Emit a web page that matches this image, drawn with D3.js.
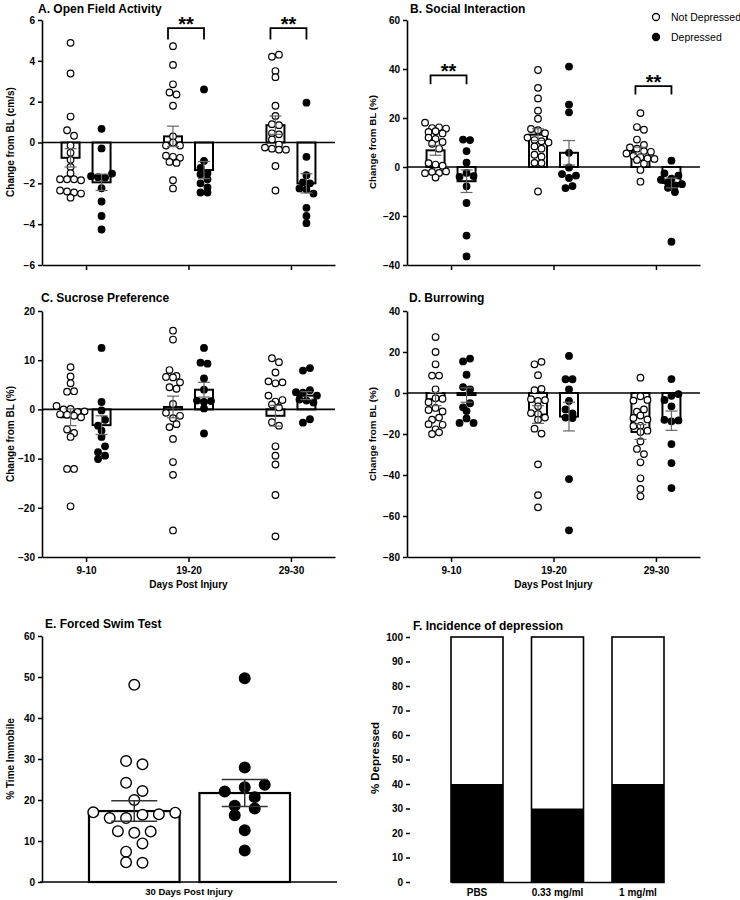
<!DOCTYPE html>
<html><head><meta charset="utf-8">
<script src="https://cdn.jsdelivr.net/npm/d3@7"></script>
<style>
body{margin:0;background:#fff}
svg{display:block}
text{font-family:"Liberation Sans",Arial,Helvetica,sans-serif;fill:#000}
</style>
</head><body>
<svg id="chart" width="740" height="900"></svg>
<script>
// ---------- shared categories ----------
const groups = ["9-10", "19-20", "29-30"];
const seriesNames = ["Not Depressed", "Depressed"];

// ---------- Panel A: Open Field Activity (cm/s) ----------
const aTicks = [-6, -4, -2, 0, 2, 4, 6];
const aNotDep = [
  [4.88, 3.38, 1.27, 0.6, 0.33, -0.15, -0.5, -0.85, -1.2, -1.5, -1.8, -1.8, -1.8, -1.85, -2.35, -2.4, -2.45, -2.5, -2.7],
  [4.72, 3.8, 2.85, 2.45, 2.35, 1.8, 0.3, -0.15, 0.0, -0.15, -0.65, -0.7, -0.75, -0.95, -1.0, -1.85, -2.25],
  [4.2, 4.3, 3.5, 3.2, 1.8, 1.3, 0.9, 0.85, 0.45, 0.4, 0.15, -0.1, -0.25, -0.3, -0.35, -0.35, -1.15, -2.35]
];
const aDep = [
  [0.67, -0.29, -1.65, -1.7, -1.72, -1.52, -2.24, -2.89, -3.6, -4.26],
  [2.6, -0.9, -1.25, -1.5, -1.55, -1.8, -2.0, -2.2, -2.45, -2.45],
  [1.95, -0.7, -1.6, -1.95, -2.0, -2.25, -2.3, -2.5, -3.2, -3.6, -3.95]
];
const aNotMean = [-0.75, 0.3, 0.85], aNotSem = [0.45, 0.5, 0.45];
const aDepMean = [-1.95, -1.35, -2.0], aDepSem = [0.4, 0.42, 0.47];
const aSig = [{group: "19-20", top: 5.6, leg: 5.05}, {group: "29-30", top: 5.6, leg: 5.05}];

// ---------- Panel B: Social Interaction (%) ----------
const bTicks = [-40, -20, 0, 20, 40, 60];
const bNotDep = [
  [18.1, 15.9, 16.2, 15.7, 14.3, 14.6, 13.7, 12, 11.5, 10.2, 9.5, 7.5, 1.6, 1.0, 0.5, -2.5, -2.0, -2.4, -1.8, -4.3],
  [39.6, 32.3, 28, 23, 19.7, 15.5, 15, 13.8, 12, 11, 10.5, 10, 8.4, 7.5, 5, 4.2, 1.7, 1.6, -10],
  [22, 16.3, 15.2, 11.2, 9, 8, 7.5, 6.5, 6.2, 5.5, 4.5, 4, 3.5, 3.3, 2.9, 1.3, -1.2, -6]
];
const bDep = [
  [11.2, 11.0, 6.5, 1.8, -4.0, -2.4, -3.7, -7.9, -14.7, -28, -36.5],
  [41, 25.5, 22.3, 5.8, -2.9, -0.2, -4.5, -3.5, -8.6, -7.8],
  [2.6, -2.6, -5.2, -4.8, -3.5, -6.3, -7.5, -7.0, -8.5, -10.2, -30.5]
];
const bNotMean = [6.8, 13.2, 6.6], bNotSem = [2.0, 2.4, 1.5];
const bDepMean = [-5.8, 5.8, -6.5], bDepSem = [4.6, 5.0, 2.0];
const bSig = [{group: "9-10", top: 37.4, leg: 33.8}, {group: "29-30", top: 33.0, leg: 29.6}];

// ---------- Panel C: Sucrose Preference (%) ----------
const cTicks = [-30, -20, -10, 0, 10, 20];
const cNotDep = [
  [8.6, 6.7, 5.3, 3.6, 3.7, 0.7, 0.0, 0.1, -0.5, -0.4, -1.0, -1.1, -1.3, -1.6, -4.1, -4.8, -5.6, -12.1, -12.1, -19.7],
  [16, 14.2, 8, 6.6, 6.8, 6.5, 4.5, 5.5, 4.2, 1.1, -0.7, -1.8, -1.3, -3.6, -3.0, -6.0, -10.7, -13.3, -24.6],
  [10.4, 9.6, 7.5, 5.7, 5.3, 5.5, 2.8, 1.6, 1.0, 1.9, 0.4, -2.6, -3.3, -7.5, -9.4, -11.2, -17.4, -25.8]
];
const cDep = [
  [12.5, 1.5, -0.2, -3.3, -2.1, -4.3, -5.6, -8.7, -7.5, -10.1, -9.4],
  [12.5, 9.5, 9.3, 6.3, 4.0, 1.8, 1.5, 1.7, 0.2, -4.9],
  [7.9, 8.4, 3.5, 3.4, 3.9, 2.8, 2.0, 1.8, 1.4, -2.7, -2.0]
];
const cNotMean = [-1.6, 0.5, -1.3], cNotSem = [1.7, 2.2, 2.1];
const cDepMean = [-3.2, 4.0, 2.8], cDepSem = [1.9, 1.5, 0.8];

// ---------- Panel D: Burrowing (%) ----------
const dTicks = [-80, -60, -40, -20, 0, 20, 40];
const dNotDep = [
  [27.3, 20, 14, 8.5, 8.5, 1.8, -4.5, -2.5, -2.8, -8.3, -7.3, -9, -15.2, -13, -12, -17.7, -15.5, -20, -19.2],
  [14, 15.2, 8.7, 1.4, 2, -3, -3.9, -3.5, -9.8, -6.5, -10.2, -12, -17.4, -13, -19.8, -34.8, -49.8, -55.8],
  [7.5, -3.7, -1.6, -3.4, -12.2, -9.1, -8, -11, -12.9, -16.1, -16, -18.4, -19, -23.6, -27.3, -29.8, -33.8, -41.6, -46.8, -50.4]
];
const dDep = [
  [15.4, 16.8, 8.9, 2.9, 1.8, -7, -5, -8.8, -14.6, -12.4, -14.6],
  [18.1, 6.7, 6.7, 1.8, -3.9, -8, -10, -12, -12.2, -42, -67],
  [6.8, -3.4, -1.4, -0.5, -6.5, -13.1, -13.8, -13.4, -24.9, -34.2, -46.4]
];
const dNotMean = [-3.0, -10.5, -19.0], dNotSem = [3.2, 4.3, 3.6];
const dDepMean = [-1.0, -11.5, -13.5], dDepSem = [3.5, 7.0, 4.7];

// ---------- Panel E: Forced Swim Test ----------
const eTicks = [0, 10, 20, 30, 40, 50, 60];
const eNotDep = [48.1, 29.5, 28.7, 24.2, 22.2, 20.0, 17.0, 15.6, 15.6, 16.4, 16.5, 16.9, 12.4, 12.0, 12.3, 7.4, 9.4, 4.8, 4.7];
const eDep = [49.7, 27.9, 22.1, 23.1, 23.7, 18.6, 20.7, 16.3, 17.9, 12.6, 7.7];
const eMean = [17.3, 21.7], eSem = [2.5, 3.3];

// ---------- Panel F: Incidence of depression ----------
const fTicks = [0, 10, 20, 30, 40, 50, 60, 70, 80, 90, 100];
const fCategories = ["PBS", "0.33 mg/ml", "1 mg/ml"];
const fDepressed = [40, 30, 40];

// =====================================================
const svg = d3.select("#chart");
const FONT = '"Liberation Sans",Arial,Helvetica,sans-serif';

function styleAxis(sel, fontSize) {
  sel.attr("font-family", FONT).attr("font-size", fontSize).attr("font-weight", "bold");
  sel.selectAll("path.domain").attr("stroke", "#000").attr("stroke-width", 1.6);
  sel.selectAll(".tick line").attr("stroke", "#000").attr("stroke-width", 1.5);
  sel.selectAll(".tick text").attr("fill", "#000");
}

function rowLayout(vals, y, cx, step, thr) {
  const idx = vals.map((v, i) => i).sort((a, b) => vals[b] - vals[a]);
  const rows = [];
  let cur = null;
  idx.forEach(i => {
    if (cur && Math.abs(y(vals[i]) - y(vals[cur[0]])) < thr) cur.push(i);
    else { cur = [i]; rows.push(cur); }
  });
  const out = [];
  rows.forEach(r => {
    r.sort((a, b) => a - b);
    r.forEach((i, k) => out.push({v: vals[i], x: cx + (k - (r.length - 1) / 2) * step, y: y(vals[i])}));
  });
  return out;
}

function yLabel(x, y, txt, size) {
  svg.append("text").attr("transform", `translate(${x},${y}) rotate(-90)`)
    .attr("text-anchor", "middle").attr("dy", "0.35em")
    .attr("font-size", size).attr("font-weight", "bold").text(txt);
}
function title(x, y, txt) {
  svg.append("text").attr("x", x).attr("y", y).attr("font-size", 12).attr("font-weight", "bold").text(txt);
}

function groupedPanel(o) {
  const g = svg.append("g").attr("transform", `translate(${o.tx},0)`);
  const axisX = 42, xEnd = 335;
  const y = d3.scaleLinear().domain(o.domain).range([o.bottom, o.top]);
  const x = d3.scalePoint().domain(groups).range([axisX, xEnd]).padding(0.43);
  const off = 15.5, bw = 18, r = 3.3, step = 7, thr = 6;

  const series = [
    {name: seriesNames[0], vals: o.not, mean: o.notMean, sem: o.notSem, dx: -off, fill: "#fff"},
    {name: seriesNames[1], vals: o.dep, mean: o.depMean, sem: o.depSem, dx: off, fill: "#000"}
  ];
  // bars
  series.forEach(s => {
    g.selectAll(null).data(groups).enter().append("rect")
      .attr("x", (d) => x(d) + s.dx - bw / 2)
      .attr("y", (d, i) => Math.min(y(s.mean[i]), y(0)))
      .attr("width", bw)
      .attr("height", (d, i) => Math.abs(y(s.mean[i]) - y(0)))
      .attr("fill", "#fff").attr("stroke", "#000").attr("stroke-width", 2);
  });
  // zero line
  g.append("line").attr("x1", axisX).attr("x2", xEnd).attr("y1", y(0)).attr("y2", y(0))
    .attr("stroke", "#000").attr("stroke-width", 1.6);
  // dots
  series.forEach(s => {
    groups.forEach((gr, i) => {
      const pts = rowLayout(s.vals[i], y, x(gr) + s.dx, step, thr);
      g.selectAll(null).data(pts).enter().append("circle")
        .attr("cx", d => d.x).attr("cy", d => d.y).attr("r", r)
        .attr("fill", s.fill).attr("stroke", "#000").attr("stroke-width", 1.2);
    });
  });
  // error bars (mean ± SEM)
  series.forEach(s => {
    groups.forEach((gr, i) => {
      const cx = x(gr) + s.dx;
      const y1 = y(s.mean[i] - s.sem[i]), y2 = y(s.mean[i] + s.sem[i]);
      const eg = g.append("g").attr("stroke", "#666").attr("stroke-width", 1.2);
      eg.append("line").attr("x1", cx).attr("x2", cx).attr("y1", y1).attr("y2", y2);
      eg.append("line").attr("x1", cx - 6).attr("x2", cx + 6).attr("y1", y1).attr("y2", y1);
      eg.append("line").attr("x1", cx - 6).attr("x2", cx + 6).attr("y1", y2).attr("y2", y2);
    });
  });
  // axes
  g.append("g").attr("transform", `translate(${axisX},0)`)
    .call(d3.axisLeft(y).tickValues(o.ticks).tickSize(4).tickSizeOuter(0).tickPadding(3))
    .call(sel => styleAxis(sel, 10));
  g.append("g").attr("transform", `translate(0,${o.bottom})`)
    .call(d3.axisBottom(x).tickSize(5).tickSizeOuter(0).tickPadding(5).tickFormat(o.xLabels ? (d => d) : () => ""))
    .call(sel => styleAxis(sel, 10));
  if (o.xLabels) {
    g.append("text").attr("x", x(groups[1])).attr("y", o.bottom + 31).attr("text-anchor", "middle")
      .attr("font-size", 10).attr("font-weight", "bold").text("Days Post Injury");
  }
  // significance brackets
  (o.sig || []).forEach(sg => {
    const x1 = x(sg.group) - off - 5, x2 = x(sg.group) + off;
    g.append("path").attr("d", `M${x1},${y(sg.leg)}V${y(sg.top)}H${x2}V${y(sg.leg)}`)
      .attr("fill", "none").attr("stroke", "#000").attr("stroke-width", 1.8);
    g.append("text").attr("x", (x1 + x2) / 2).attr("y", y(sg.top) + 3).attr("text-anchor", "middle")
      .attr("font-size", 20).attr("font-weight", "bold").text("**");
  });
}

groupedPanel({tx: 0, top: 20, bottom: 265, domain: [-6, 6], ticks: aTicks,
  not: aNotDep, dep: aDep, notMean: aNotMean, notSem: aNotSem, depMean: aDepMean, depSem: aDepSem, sig: aSig, xLabels: false});
groupedPanel({tx: 365, top: 20, bottom: 265, domain: [-40, 60], ticks: bTicks,
  not: bNotDep, dep: bDep, notMean: bNotMean, notSem: bNotSem, depMean: bDepMean, depSem: bDepSem, sig: bSig, xLabels: false});
groupedPanel({tx: 0, top: 311, bottom: 557, domain: [-30, 20], ticks: cTicks,
  not: cNotDep, dep: cDep, notMean: cNotMean, notSem: cNotSem, depMean: cDepMean, depSem: cDepSem, xLabels: true});
groupedPanel({tx: 365, top: 311, bottom: 557, domain: [-80, 40], ticks: dTicks,
  not: dNotDep, dep: dDep, notMean: dNotMean, notSem: dNotSem, depMean: dDepMean, depSem: dDepSem, xLabels: true});

title(38, 13, "A. Open Field Activity");
title(410, 13, "B. Social Interaction");
title(41, 302, "C. Sucrose Preference");
title(409, 302, "D. Burrowing");
yLabel(10, 142, "Change from BL (cm/s)", 10);
yLabel(373, 142, "Change from BL (%)", 9.8);
yLabel(10, 434, "Change from BL (%)", 10);
yLabel(373, 434, "Change from BL (%)", 9.8);

// legend
const legend = svg.append("g");
seriesNames.forEach((n, i) => {
  const ly = 17 + i * 20;
  legend.append("circle").attr("cx", 656).attr("cy", ly).attr("r", 3.5)
    .attr("fill", i === 0 ? "#fff" : "#000").attr("stroke", "#000").attr("stroke-width", 1.3);
  legend.append("text").attr("x", 671).attr("y", ly).attr("dy", "0.35em")
    .attr("font-size", 10.5).text(n);
});

// ---------- Panel E ----------
(function () {
  const y = d3.scaleLinear().domain([0, 60]).range([882, 636]);
  const x = d3.scaleBand().domain(seriesNames).range([89, 290]).paddingInner(0.18);
  const g = svg.append("g");
  const vals = [eNotDep, eDep];
  const steps = [16.4, 20];
  seriesNames.forEach((s, i) => {
    g.append("rect").attr("x", x(s)).attr("y", y(eMean[i])).attr("width", x.bandwidth())
      .attr("height", y(0) - y(eMean[i])).attr("fill", "#fff").attr("stroke", "#000").attr("stroke-width", 2.2);
  });
  seriesNames.forEach((s, i) => {
    const cx = x(s) + x.bandwidth() / 2;
    const pts = rowLayout(vals[i], y, cx, steps[i], 10);
    g.selectAll(null).data(pts).enter().append("circle")
      .attr("cx", d => d.x).attr("cy", d => d.y).attr("r", 5.3)
      .attr("fill", i === 0 ? "#fff" : "#000").attr("stroke", "#000").attr("stroke-width", 1.4);
  });
  seriesNames.forEach((s, i) => {
    const cx = x(s) + x.bandwidth() / 2;
    const y1 = y(eMean[i] - eSem[i]), y2 = y(eMean[i] + eSem[i]);
    const eg = g.append("g").attr("stroke", "#333").attr("stroke-width", 1.5);
    eg.append("line").attr("x1", cx).attr("x2", cx).attr("y1", y1).attr("y2", y2);
    eg.append("line").attr("x1", cx - 23).attr("x2", cx + 23).attr("y1", y1).attr("y2", y1);
    eg.append("line").attr("x1", cx - 23).attr("x2", cx + 23).attr("y1", y2).attr("y2", y2);
  });
  g.append("g").attr("transform", "translate(42,0)")
    .call(d3.axisLeft(y).tickValues(eTicks).tickSize(4).tickSizeOuter(0).tickPadding(3))
    .call(sel => styleAxis(sel, 10));
  g.append("line").attr("x1", 40).attr("x2", 337).attr("y1", 882).attr("y2", 882)
    .attr("stroke", "#000").attr("stroke-width", 1.6);
  g.append("text").attr("x", 189).attr("y", 895).attr("text-anchor", "middle")
    .attr("font-size", 9.5).attr("font-weight", "bold").text("30 Days Post Injury");
  title(45, 628, "E. Forced Swim Test");
  yLabel(10, 759, "% Time Immobile", 10);
})();

// ---------- Panel F ----------
(function () {
  const y = d3.scaleLinear().domain([0, 100]).range([882, 637]);
  const x = d3.scaleBand().domain(fCategories).range([451, 664]).paddingInner(0.354);
  const g = svg.append("g");
  fCategories.forEach((c, i) => {
    g.append("rect").attr("x", x(c)).attr("y", y(100)).attr("width", x.bandwidth())
      .attr("height", y(fDepressed[i]) - y(100)).attr("fill", "#fff");
    g.append("rect").attr("x", x(c)).attr("y", y(fDepressed[i])).attr("width", x.bandwidth())
      .attr("height", y(0) - y(fDepressed[i])).attr("fill", "#000");
    g.append("rect").attr("x", x(c)).attr("y", y(100)).attr("width", x.bandwidth())
      .attr("height", y(0) - y(100)).attr("fill", "none").attr("stroke", "#000").attr("stroke-width", 1.6);
  });
  g.append("g").attr("transform", "translate(410,0)")
    .call(d3.axisLeft(y).tickValues(fTicks).tickSize(4).tickSizeOuter(0).tickPadding(3))
    .call(sel => styleAxis(sel, 10));
  g.append("g").attr("transform", "translate(0,882)")
    .call(d3.axisBottom(x).tickSize(0).tickSizeOuter(0).tickPadding(7))
    .call(sel => styleAxis(sel, 10));
  g.select("path.domain").attr("d", "M408,0H703");
  title(413, 630, "F. Incidence of depression");
  yLabel(375, 758, "% Depressed", 11.5);
})();
</script>
</body></html>
